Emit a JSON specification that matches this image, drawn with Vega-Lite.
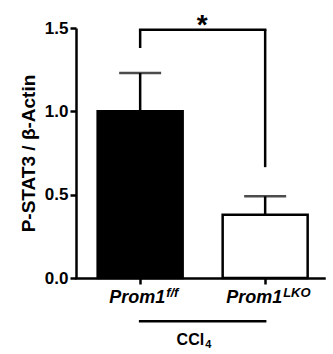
{
  "$schema": "https://vega.github.io/schema/vega-lite/v6.json",
  "autosize": "none",
  "width": 248,
  "height": 250,
  "padding": {"left": 76, "top": 28, "right": 9, "bottom": 76},
  "config": {
    "view": {"stroke": null},
    "font": "Liberation Sans",
    "axis": {"grid": false, "domainColor": "#000", "tickColor": "#000", "labelColor": "#000", "titleColor": "#000", "domainWidth": 2.5, "tickWidth": 2.5}
  },
  "datasets": {
    "bars": [
      {"group": "f/f", "label": "Prom1", "sup": "f/f", "mean": 1.0, "lo": 0.77, "hi": 1.23},
      {"group": "LKO", "label": "Prom1", "sup": "LKO", "mean": 0.38, "lo": 0.265, "hi": 0.49}
    ],
    "legs": [
      {"group": "f/f", "ylow": 1.38, "ytop": 1.49},
      {"group": "LKO", "ylow": 0.665, "ytop": 1.49}
    ],
    "spans": [
      {"from": "f/f", "to": "LKO", "y": 1.49, "kind": "bracket"},
      {"from": "f/f", "to": "LKO", "y": -0.26, "kind": "underline"}
    ],
    "notes": [
      {"group": "f/f", "text": "*", "y": 1.5, "kind": "star"},
      {"group": "f/f", "text": "CCl", "y": -0.37, "kind": "ccl"},
      {"group": "f/f", "text": "4", "y": -0.37, "kind": "sub"}
    ]
  },
  "encoding": {
    "x": {
      "field": "group", "type": "nominal", "sort": ["f/f", "LKO"],
      "scale": {"domain": ["f/f", "LKO"], "paddingInner": 0.32, "paddingOuter": 0.152, "align": 0.57},
      "axis": {"title": null, "labels": false, "tickSize": 6, "domainCap": "square"}
    }
  },
  "layer": [
    {
      "data": {"name": "bars"},
      "mark": {"type": "rule", "strokeWidth": 2.5, "color": "#000"},
      "encoding": {
        "y": {"field": "lo", "type": "quantitative"},
        "y2": {"field": "hi"}
      }
    },
    {
      "data": {"name": "bars"},
      "mark": {"type": "tick", "orient": "horizontal", "size": 42, "thickness": 2.5, "color": "#000"},
      "encoding": {"y": {"field": "hi", "type": "quantitative"}}
    },
    {
      "data": {"name": "bars"},
      "mark": {"type": "tick", "orient": "horizontal", "size": 42, "thickness": 2.5, "color": "#000"},
      "encoding": {"y": {"field": "lo", "type": "quantitative"}}
    },
    {
      "data": {"name": "bars"},
      "mark": {"type": "bar", "stroke": "#000", "strokeWidth": 2.5},
      "encoding": {
        "y": {
          "field": "mean", "type": "quantitative",
          "scale": {"domain": [0, 1.5], "nice": false, "zero": true},
          "axis": {
            "values": [0, 0.5, 1, 1.5], "format": ".1f", "tickSize": 6,
            "labelFont": "Liberation Sans", "labelFontWeight": "bold", "labelFontSize": 17, "labelPadding": 2,
            "title": "P-STAT3 / β-Actin", "titleFont": "Liberation Sans", "titleFontWeight": "bold", "titleFontSize": 19, "titlePadding": 6
          }
        },
        "fill": {"field": "group", "type": "nominal", "scale": {"domain": ["f/f", "LKO"], "range": ["#000000", "#ffffff"]}, "legend": null}
      }
    },
    {
      "data": {"name": "legs"},
      "mark": {"type": "rule", "strokeWidth": 2.5, "color": "#000"},
      "encoding": {
        "y": {"field": "ylow", "type": "quantitative"},
        "y2": {"field": "ytop"}
      }
    },
    {
      "data": {"name": "spans"},
      "mark": {"type": "rule", "strokeWidth": 2.5, "color": "#000", "strokeCap": "square"},
      "encoding": {
        "x": {"field": "from", "type": "nominal", "bandPosition": 0.5},
        "x2": {"field": "to", "bandPosition": 0.5},
        "y": {"field": "y", "type": "quantitative"}
      }
    },
    {
      "data": {"name": "bars"},
      "transform": [{"filter": "datum.group == 'f/f'"}],
      "mark": {"type": "text", "font": "Liberation Sans", "fontWeight": "bold", "fontStyle": "italic", "fontSize": 18, "align": "right", "baseline": "alphabetic", "dx": 25, "color": "#000"},
      "encoding": {"text": {"field": "label"}, "y": {"datum": -0.15}}
    },
    {
      "data": {"name": "bars"},
      "transform": [{"filter": "datum.group == 'f/f'"}],
      "mark": {"type": "text", "font": "Liberation Sans", "fontWeight": "bold", "fontStyle": "italic", "fontSize": 13, "align": "left", "baseline": "alphabetic", "dx": 26, "dy": -6, "color": "#000"},
      "encoding": {"text": {"field": "sup"}, "y": {"datum": -0.15}}
    },
    {
      "data": {"name": "bars"},
      "transform": [{"filter": "datum.group == 'LKO'"}],
      "mark": {"type": "text", "font": "Liberation Sans", "fontWeight": "bold", "fontStyle": "italic", "fontSize": 18, "align": "right", "baseline": "alphabetic", "dx": 17, "color": "#000"},
      "encoding": {"text": {"field": "label"}, "y": {"datum": -0.15}}
    },
    {
      "data": {"name": "bars"},
      "transform": [{"filter": "datum.group == 'LKO'"}],
      "mark": {"type": "text", "font": "Liberation Sans", "fontWeight": "bold", "fontStyle": "italic", "fontSize": 13, "align": "left", "baseline": "alphabetic", "dx": 18, "dy": -6, "color": "#000"},
      "encoding": {"text": {"field": "sup"}, "y": {"datum": -0.15}}
    },
    {
      "data": {"name": "notes"},
      "transform": [{"filter": "datum.kind == 'star'"}],
      "mark": {"type": "text", "font": "Liberation Sans", "fontWeight": "bold", "fontSize": 28, "align": "center", "baseline": "middle", "dx": 62, "dy": -2, "color": "#000"},
      "encoding": {"text": {"field": "text"}, "y": {"field": "y", "type": "quantitative"}}
    },
    {
      "data": {"name": "notes"},
      "transform": [{"filter": "datum.kind == 'ccl'"}],
      "mark": {"type": "text", "font": "Liberation Sans", "fontWeight": "bold", "fontSize": 16, "align": "right", "baseline": "middle", "dx": 64, "color": "#000"},
      "encoding": {"text": {"field": "text"}, "y": {"field": "y", "type": "quantitative"}}
    },
    {
      "data": {"name": "notes"},
      "transform": [{"filter": "datum.kind == 'sub'"}],
      "mark": {"type": "text", "font": "Liberation Sans", "fontWeight": "bold", "fontSize": 11, "align": "left", "baseline": "middle", "dx": 65, "dy": 5, "color": "#000"},
      "encoding": {"text": {"field": "text"}, "y": {"field": "y", "type": "quantitative"}}
    }
  ]
}
